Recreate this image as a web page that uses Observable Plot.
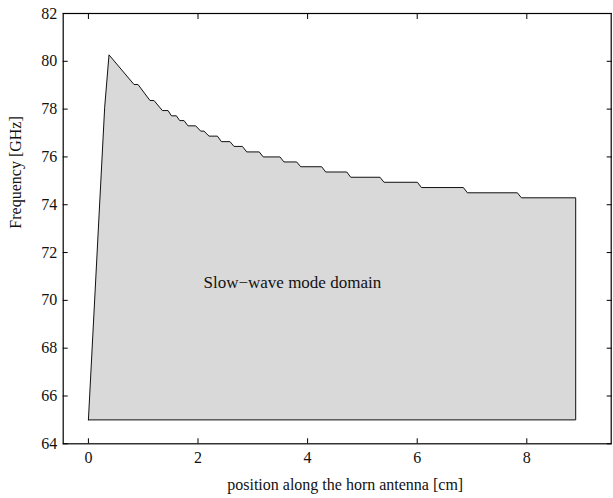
<!DOCTYPE html>
<html>
<head>
<meta charset="utf-8">
<script src="https://cdn.jsdelivr.net/npm/d3@7"></script>
<script src="https://cdn.jsdelivr.net/npm/@observablehq/plot@0.6"></script>
<style>
  html, body { margin: 0; padding: 0; background: #fff; }
</style>
</head>
<body>
<div id="chart"></div>
<script>
// Outline of the slow-wave mode domain (position in cm, frequency in GHz)
const position = [0, 0.297, 0.376, 0.832, 0.905, 1.124, 1.197, 1.350, 1.453, 1.515, 1.606, 1.666, 1.745,
  1.818, 1.958, 2.049, 2.109, 2.201, 2.354, 2.427, 2.584, 2.657, 2.810, 2.889, 3.117, 3.190, 3.496,
  3.569, 3.801, 3.874, 4.257, 4.330, 4.714, 4.787, 5.321, 5.394, 6.004, 6.077, 6.843, 6.916, 7.828,
  7.901, 8.892, 8.892, 0];
const frequency = [65.0, 78.08, 80.27, 79.03, 79.03, 78.36, 78.36, 77.94, 77.94, 77.72, 77.72, 77.52, 77.52,
  77.30, 77.30, 77.08, 77.08, 76.87, 76.87, 76.64, 76.64, 76.44, 76.44, 76.21, 76.21, 76.00, 76.00,
  75.79, 75.79, 75.59, 75.59, 75.37, 75.37, 75.15, 75.15, 74.94, 74.94, 74.72, 74.72, 74.50, 74.50,
  74.29, 74.29, 65.0, 65.0];

const xTicks = [0, 2, 4, 6, 8];
const yTicks = [64, 66, 68, 70, 72, 74, 76, 78, 80, 82];
const xDomain = [-0.46, 9.54];
const yDomain = [64, 82];

const annotation = ["Slow\u2212wave mode domain"];
const annotationX = [2.1];
const annotationY = [70.75];

const xLabel = "position along the horn antenna [cm]";
const yLabel = "Frequency [GHz]";

const outline = position.map((p, i) => ({p, f: frequency[i]}));
const notes = annotation.map((t, i) => ({t, x: annotationX[i], y: annotationY[i]}));

const font = "'Liberation Serif', 'Times New Roman', Times, serif";

const chart = Plot.plot({
  width: 613,
  height: 498,
  marginLeft: 62.7,
  marginRight: 2.3,
  marginTop: 13,
  marginBottom: 54.7,
  style: {fontFamily: font, fontSize: "16px", background: "#fff", color: "#000", overflow: "visible"},
  x: {domain: xDomain},
  y: {domain: yDomain},
  marks: [
    Plot.line(outline, {x: "p", y: "f", fill: "#d9d9d9", stroke: "#111", strokeWidth: 1, curve: "linear"}),
    Plot.text(notes, {x: "x", y: "y", text: "t", textAnchor: "start", lineAnchor: "middle", fontSize: 17, fill: "#111"}),
    // inward tick marks on all four sides
    Plot.axisX({ticks: xTicks, anchor: "bottom", tickSize: -5, tickFormat: () => "", label: null, stroke: "#000"}),
    Plot.axisX({ticks: xTicks, anchor: "top", tickSize: -5, tickFormat: () => "", label: null, stroke: "#000"}),
    Plot.axisY({ticks: yTicks, anchor: "left", tickSize: -5, tickFormat: () => "", label: null, stroke: "#000"}),
    Plot.axisY({ticks: yTicks, anchor: "right", tickSize: -5, tickFormat: () => "", label: null, stroke: "#000"}),
    // tick labels
    Plot.axisX({ticks: xTicks, anchor: "bottom", tickSize: 0, tickPadding: 8, label: null, fontSize: 16, fill: "#111"}),
    Plot.axisY({ticks: yTicks, anchor: "left", tickSize: 0, tickPadding: 6, label: null, fontSize: 16, fill: "#111"}),
    Plot.frame({stroke: "#000", strokeWidth: 1.2}),
    // axis titles
    Plot.text([xLabel], {frameAnchor: "bottom", dx: 8, dy: 40.7, lineAnchor: "middle", fontSize: 16, fill: "#111"}),
    Plot.text([yLabel], {frameAnchor: "left", rotate: -90, dx: -47.7, lineAnchor: "middle", fontSize: 16, fill: "#111"})
  ]
});

document.getElementById("chart").appendChild(chart);
</script>
</body>
</html>
